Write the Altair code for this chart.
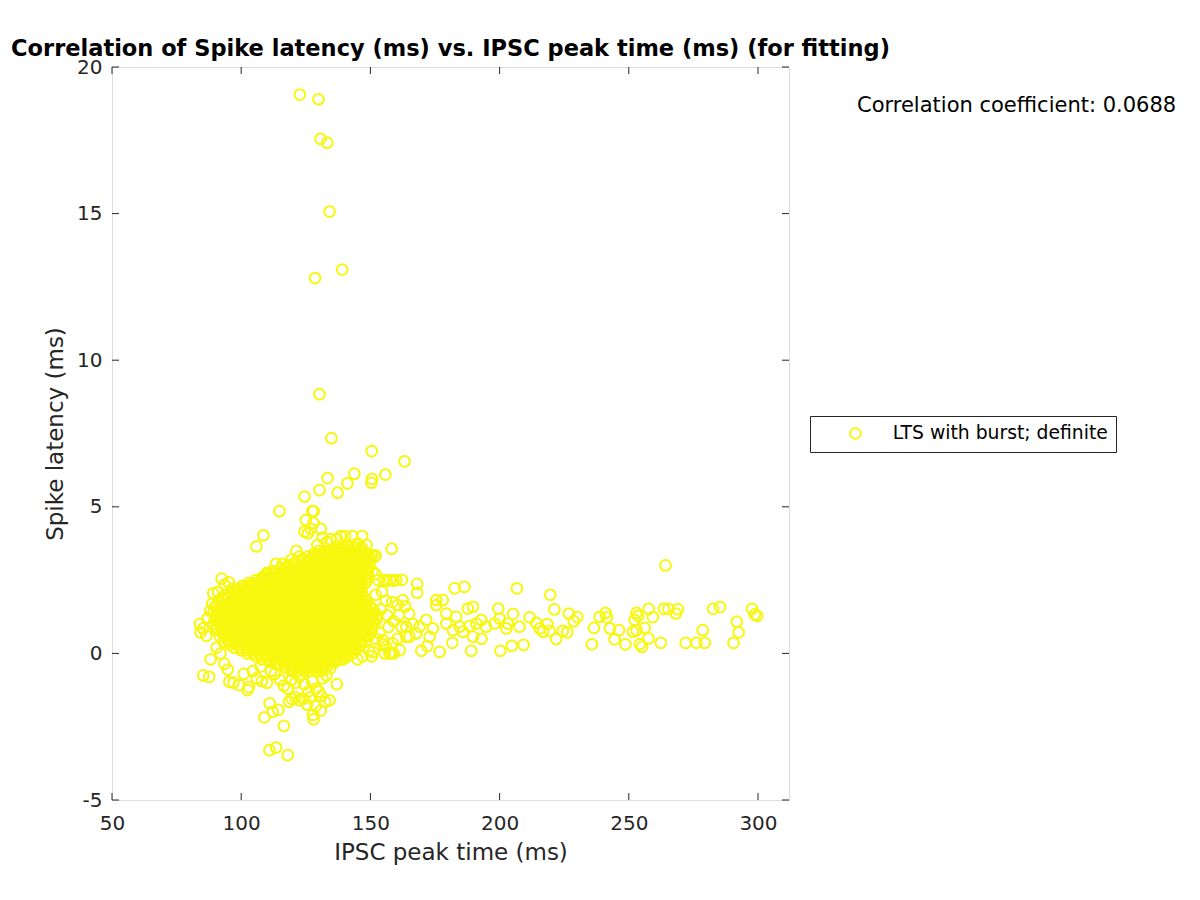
import altair as alt
import pandas as pd

SERIES = "LTS with burst; definite"
TITLE = "Correlation of Spike latency (ms) vs. IPSC peak time (ms) (for fitting)"
ANNOT = "Correlation coefficient: 0.0688"
X_TICKS = [50, 100, 150, 200, 250, 300]
Y_TICKS = [-5, 0, 5, 10, 15, 20]

# isolated high points
out_x = [122.7, 129.9, 130.7, 133.3, 134.2, 139.1, 128.6, 130.3, 134.9, 150.5, 163.2, 133.4,
         143.8, 155.8, 150.6, 150.4, 130.3, 141.1, 137.3, 124.5, 114.8, 128.0, 108.6, 105.9]
out_y = [19.06, 18.9, 17.55, 17.42, 15.07, 13.09, 12.8, 8.84, 7.34, 6.9, 6.55, 5.98,
         6.13, 6.1, 5.95, 5.82, 5.57, 5.8, 5.48, 5.35, 4.85, 4.85, 4.03, 3.65]

# long right tail
tail_x = [264.2, 206.7, 219.6, 186.4, 182.6, 158.2, 152.0, 168.1, 168.1, 162.2, 158.9, 156.3,
          199.5, 221.2, 226.8, 230.1, 228.7, 257.7, 263.6, 265.3, 269.0, 268.2, 282.6, 285.3,
          297.7, 298.8, 299.7, 291.8, 292.5, 290.5, 278.6, 279.4, 276.2, 272.0, 262.4, 257.6,
          255.1, 254.3, 259.3, 253.0, 253.6, 252.3, 256.2, 253.0, 251.6, 248.7, 246.2, 244.5,
          242.7, 241.0, 238.7, 241.5, 236.5, 235.7, 226.2, 224.5, 221.9, 219.4, 216.8, 215.5,
          218.5, 214.2, 211.6, 209.3, 204.7, 200.3, 198.1, 200.0, 205.2, 203.2, 207.7, 202.6,
          192.9, 194.8, 191.0, 188.4, 189.7, 187.7, 189.0, 193.0, 189.7, 181.7, 179.4, 178.0,
          179.4, 176.8, 175.5, 181.9, 183.2, 184.5, 185.8, 169.7, 172.0, 175.5, 171.6, 174.2,
          169.0, 172.9, 167.7, 165.1, 163.9, 158.1, 157.4, 163.9, 161.3, 162.5, 160.0, 154.8, 156.1]
tail_y = [3.0, 2.22, 2.0, 2.27, 2.22, 3.57, 3.34, 2.37, 2.07, 2.51, 2.48, 2.48,
          1.53, 1.5, 1.36, 1.24, 1.10, 1.52, 1.52, 1.52, 1.51, 1.36, 1.52, 1.58,
          1.52, 1.33, 1.28, 1.08, 0.72, 0.36, 0.79, 0.36, 0.36, 0.36, 0.36, 0.51,
          0.22, 0.32, 1.24, 1.38, 1.28, 1.14, 0.87, 0.79, 0.74, 0.31, 0.79, 0.48,
          0.85, 1.38, 1.25, 1.23, 0.87, 0.31, 0.72, 0.77, 0.49, 0.77, 0.74, 0.85,
          1.0, 1.04, 1.23, 0.29, 0.26, 0.09, 1.02, 1.19, 1.34, 1.02, 0.91, 0.85,
          1.14, 0.91, 1.02, 0.94, 1.59, 1.53, 0.09, 0.50, 0.57, 0.36, 1.36, 1.82,
          1.02, 0.05, 1.82, 0.79, 1.25, 0.91, 0.74, 0.09, 0.25, 1.65, 1.14, 0.85,
          0.91, 0.57, 0.68, 0.57, 0.91, 0.02, 0.0, 0.57, 0.11, 1.82, 2.5, 0.45, 0.23]

# rings around the edge of the dense cluster
edge_x = [84.0, 84.3, 85.2, 86.5, 87.0, 88.0, 88.8, 89.2, 91.0, 92.4, 93.6, 95.2, 96.5,
          85.3, 87.6, 88.2, 90.5, 92.0, 93.5, 94.8, 95.4, 99.2, 102.5, 97.0, 101.0, 103.0,
          104.5, 106.0, 107.5, 108.0, 110.0, 111.5, 113.0, 115.0, 116.5, 118.0, 119.5, 121.0,
          122.5, 124.5, 126.0, 127.5, 129.0, 130.0, 131.5, 133.0, 134.5, 136.0, 137.0, 139.5,
          141.0, 109.0, 112.2, 114.4, 116.5, 110.9, 113.5, 118.0, 111.0, 118.5, 119.5, 121.0,
          122.5, 124.0, 127.8, 128.0, 128.8, 130.8, 131.0, 132.5, 134.2, 125.5, 126.5,
          100.5, 102.5, 104.5, 106.2, 108.2, 110.0, 112.2, 113.4, 116.0, 118.0, 119.5, 121.4,
          122.5, 124.5, 125.8, 127.0, 128.0, 127.5, 125.0, 130.8, 131.5, 133.2, 135.0, 137.0,
          138.5, 140.2, 141.5, 143.0, 145.0, 146.8, 148.5, 150.5, 151.6, 149.0, 152.0, 153.0,
          155.2, 157.6, 154.5, 156.0, 158.5, 160.5, 152.0, 154.0, 156.5, 159.0, 161.0, 157.0,
          153.5, 155.0, 152.0, 149.5, 151.0, 147.0, 145.0, 144.0, 158.5, 160.5, 162.0, 163.5,
          165.0, 166.5, 150.5, 146.0, 155.5, 159.0, 129.5, 134.5, 145.5]
edge_y = [1.0, 0.72, 0.85, 0.6, 1.2, 1.45, 1.7, 2.05, 2.1, 2.55, 2.35, 2.42, 2.2,
          -0.75, -0.8, -0.2, 0.2, 0.0, -0.35, -0.55, -0.97, -1.08, -1.25, -1.0, -0.7, -1.15,
          -0.6, -0.85, -0.45, -0.95, -1.0, -0.6, -0.7, -0.9, -1.1, -1.2, -0.9, -1.0,
          -0.8, -1.05, -1.3, -0.95, -1.2, -1.3, -0.85, -0.75, -0.5, -0.3, -1.05, -0.2,
          0.0, -2.18, -1.99, -1.93, -2.47, -3.30, -3.21, -3.47, -1.7, -1.65, -1.55, -1.5,
          -1.6, -1.55, -2.1, -2.25, -1.8, -1.95, -1.45, -1.65, -1.6, -1.75, -1.5,
          2.3, 2.25, 2.35, 2.3, 2.55, 2.75, 2.8, 3.05, 3.05, 2.95, 3.2, 3.5,
          3.3, 4.15, 4.1, 4.25, 4.45, 4.85, 4.55, 4.25, 3.95, 3.8, 3.5, 3.9,
          4.0, 4.0, 3.7, 4.0, 3.75, 4.0, 3.7, 3.35, 3.3, 2.9, 2.7, 2.5,
          2.5, 2.5, 2.1, 1.8, 1.75, 1.65, 2.0, 1.5, 1.3, 1.1, 1.3, 0.9,
          0.7, 0.3, 0.5, 0.1, 0.05, -0.1, -0.2, 0.2, 0.35, 0.5, 0.9, 1.6,
          1.35, 1.0, -0.1, 0.6, 0.0, 0.0, 3.7, 3.9, 3.3]

# dense core, read row by row (row latency, then peak times along that row)
core_row_y = [3.6, 3.5, 3.4, 3.3, 3.2, 3.1, 3.0, 2.9, 2.8, 2.7, 2.6, 2.5, 2.4, 2.3, 2.2, 2.1,
              2.0, 1.9, 1.8, 1.7, 1.6, 1.5, 1.4, 1.3, 1.2, 1.1, 1.0, 0.9, 0.8, 0.7, 0.6, 0.5,
              0.4, 0.3, 0.2, 0.1, 0.0, -0.1, -0.2, -0.3, -0.4, -0.5, -0.6]
core_row_x = [
    [137.0, 139.4, 141.8, 144.2, 146.6],
    [130.0, 132.4, 134.8, 137.2, 139.6, 142.0, 144.4, 146.8],
    [128.2, 130.6, 133.0, 135.4, 137.8, 140.2, 142.6, 145.0, 147.4, 149.0],
    [125.8, 128.2, 130.6, 133.0, 135.4, 137.8, 140.2, 142.6, 145.0, 147.4, 149.6],
    [124.0, 126.4, 128.8, 131.2, 133.6, 136.0, 138.4, 140.8, 143.2, 145.6, 148.0, 150.2],
    [120.8, 123.2, 125.6, 128.0, 130.4, 132.8, 135.2, 137.6, 140.0, 142.4, 144.8, 147.2, 149.6],
    [118.2, 120.6, 123.0, 125.4, 127.8, 130.2, 132.6, 135.0, 137.4, 139.8, 142.2, 144.6, 147.0, 149.4],
    [115.6, 118.0, 120.4, 122.8, 125.2, 127.6, 130.0, 132.4, 134.8, 137.2, 139.6, 142.0, 144.4, 146.8,
     149.2],
    [113.0, 115.4, 117.8, 120.2, 122.6, 125.0, 127.4, 129.8, 132.2, 134.6, 137.0, 139.4, 141.8, 144.2,
     146.6, 149.0, 150.8],
    [110.4, 112.8, 115.2, 117.6, 120.0, 122.4, 124.8, 127.2, 129.6, 132.0, 134.4, 136.8, 139.2, 141.6,
     144.0, 146.4, 148.8],
    [108.2, 110.6, 113.0, 115.4, 117.8, 120.2, 122.6, 125.0, 127.4, 129.8, 132.2, 134.6, 137.0, 139.4,
     141.8, 144.2, 146.6, 149.0],
    [105.6, 108.0, 110.4, 112.8, 115.2, 117.6, 120.0, 122.4, 124.8, 127.2, 129.6, 132.0, 134.4, 136.8,
     139.2, 141.6, 144.0, 146.4, 148.6],
    [103.0, 105.4, 107.8, 110.2, 112.6, 115.0, 117.4, 119.8, 122.2, 124.6, 127.0, 129.4, 131.8, 134.2,
     136.6, 139.0, 141.4, 143.8, 146.2, 148.2],
    [100.8, 103.2, 105.6, 108.0, 110.4, 112.8, 115.2, 117.6, 120.0, 122.4, 124.8, 127.2, 129.6, 132.0,
     134.4, 136.8, 139.2, 141.6, 144.0, 146.4],
    [98.2, 100.6, 103.0, 105.4, 107.8, 110.2, 112.6, 115.0, 117.4, 119.8, 122.2, 124.6, 127.0, 129.4,
     131.8, 134.2, 136.6, 139.0, 141.4, 143.8, 146.2],
    [96.2, 98.6, 101.0, 103.4, 105.8, 108.2, 110.6, 113.0, 115.4, 117.8, 120.2, 122.6, 125.0, 127.4,
     129.8, 132.2, 134.6, 137.0, 139.4, 141.8, 144.2, 146.6],
    [94.0, 96.4, 98.8, 101.2, 103.6, 106.0, 108.4, 110.8, 113.2, 115.6, 118.0, 120.4, 122.8, 125.2,
     127.6, 130.0, 132.4, 134.8, 137.2, 139.6, 142.0, 144.4, 146.8],
    [92.6, 95.0, 97.4, 99.8, 102.2, 104.6, 107.0, 109.4, 111.8, 114.2, 116.6, 119.0, 121.4, 123.8,
     126.2, 128.6, 131.0, 133.4, 135.8, 138.2, 140.6, 143.0, 145.4, 147.6],
    [91.2, 93.6, 96.0, 98.4, 100.8, 103.2, 105.6, 108.0, 110.4, 112.8, 115.2, 117.6, 120.0, 122.4,
     124.8, 127.2, 129.6, 132.0, 134.4, 136.8, 139.2, 141.6, 144.0, 146.4, 148.4],
    [92.4, 94.8, 97.2, 99.6, 102.0, 104.4, 106.8, 109.2, 111.6, 114.0, 116.4, 118.8, 121.2, 123.6,
     126.0, 128.4, 130.8, 133.2, 135.6, 138.0, 140.4, 142.8, 145.2, 147.6],
    [90.0, 92.4, 94.8, 97.2, 99.6, 102.0, 104.4, 106.8, 109.2, 111.6, 114.0, 116.4, 118.8, 121.2,
     123.6, 126.0, 128.4, 130.8, 133.2, 135.6, 138.0, 140.4, 142.8, 145.2, 147.6, 150.0],
    [91.2, 93.6, 96.0, 98.4, 100.8, 103.2, 105.6, 108.0, 110.4, 112.8, 115.2, 117.6, 120.0, 122.4,
     124.8, 127.2, 129.6, 132.0, 134.4, 136.8, 139.2, 141.6, 144.0, 146.4, 148.8, 151.0],
    [89.2, 91.6, 94.0, 96.4, 98.8, 101.2, 103.6, 106.0, 108.4, 110.8, 113.2, 115.6, 118.0, 120.4,
     122.8, 125.2, 127.6, 130.0, 132.4, 134.8, 137.2, 139.6, 142.0, 144.4, 146.8, 149.2, 151.6],
    [90.4, 92.8, 95.2, 97.6, 100.0, 102.4, 104.8, 107.2, 109.6, 112.0, 114.4, 116.8, 119.2, 121.6,
     124.0, 126.4, 128.8, 131.2, 133.6, 136.0, 138.4, 140.8, 143.2, 145.6, 148.0, 150.4, 152.4],
    [90.0, 92.4, 94.8, 97.2, 99.6, 102.0, 104.4, 106.8, 109.2, 111.6, 114.0, 116.4, 118.8, 121.2,
     123.6, 126.0, 128.4, 130.8, 133.2, 135.6, 138.0, 140.4, 142.8, 145.2, 147.6, 150.0, 152.6],
    [91.2, 93.6, 96.0, 98.4, 100.8, 103.2, 105.6, 108.0, 110.4, 112.8, 115.2, 117.6, 120.0, 122.4,
     124.8, 127.2, 129.6, 132.0, 134.4, 136.8, 139.2, 141.6, 144.0, 146.4, 148.8, 151.2],
    [89.2, 91.6, 94.0, 96.4, 98.8, 101.2, 103.6, 106.0, 108.4, 110.8, 113.2, 115.6, 118.0, 120.4,
     122.8, 125.2, 127.6, 130.0, 132.4, 134.8, 137.2, 139.6, 142.0, 144.4, 146.8, 149.2, 151.6],
    [90.4, 92.8, 95.2, 97.6, 100.0, 102.4, 104.8, 107.2, 109.6, 112.0, 114.4, 116.8, 119.2, 121.6,
     124.0, 126.4, 128.8, 131.2, 133.6, 136.0, 138.4, 140.8, 143.2, 145.6, 148.0, 150.6],
    [90.4, 92.8, 95.2, 97.6, 100.0, 102.4, 104.8, 107.2, 109.6, 112.0, 114.4, 116.8, 119.2, 121.6,
     124.0, 126.4, 128.8, 131.2, 133.6, 136.0, 138.4, 140.8, 143.2, 145.6, 148.0, 150.6],
    [92.8, 95.2, 97.6, 100.0, 102.4, 104.8, 107.2, 109.6, 112.0, 114.4, 116.8, 119.2, 121.6, 124.0,
     126.4, 128.8, 131.2, 133.6, 136.0, 138.4, 140.8, 143.2, 145.6, 148.0, 150.0],
    [91.6, 94.0, 96.4, 98.8, 101.2, 103.6, 106.0, 108.4, 110.8, 113.2, 115.6, 118.0, 120.4, 122.8,
     125.2, 127.6, 130.0, 132.4, 134.8, 137.2, 139.6, 142.0, 144.4, 146.8, 149.4],
    [94.4, 96.8, 99.2, 101.6, 104.0, 106.4, 108.8, 111.2, 113.6, 116.0, 118.4, 120.8, 123.2, 125.6,
     128.0, 130.4, 132.8, 135.2, 137.6, 140.0, 142.4, 144.8, 147.2],
    [93.2, 95.6, 98.0, 100.4, 102.8, 105.2, 107.6, 110.0, 112.4, 114.8, 117.2, 119.6, 122.0, 124.4,
     126.8, 129.2, 131.6, 134.0, 136.4, 138.8, 141.2, 143.6, 146.0, 148.0],
    [95.6, 98.0, 100.4, 102.8, 105.2, 107.6, 110.0, 112.4, 114.8, 117.2, 119.6, 122.0, 124.4, 126.8,
     129.2, 131.6, 134.0, 136.4, 138.8, 141.2, 143.6, 146.0],
    [97.2, 99.6, 102.0, 104.4, 106.8, 109.2, 111.6, 114.0, 116.4, 118.8, 121.2, 123.6, 126.0, 128.4,
     130.8, 133.2, 135.6, 138.0, 140.4, 142.8, 145.4],
    [100.0, 102.4, 104.8, 107.2, 109.6, 112.0, 114.4, 116.8, 119.2, 121.6, 124.0, 126.4, 128.8, 131.2,
     133.6, 136.0, 138.4, 140.8, 143.2],
    [102.4, 104.8, 107.2, 109.6, 112.0, 114.4, 116.8, 119.2, 121.6, 124.0, 126.4, 128.8, 131.2, 133.6,
     136.0, 138.4, 140.8, 143.0],
    [105.6, 108.0, 110.4, 112.8, 115.2, 117.6, 120.0, 122.4, 124.8, 127.2, 129.6, 132.0, 134.4, 136.8,
     139.2, 141.2],
    [108.0, 110.4, 112.8, 115.2, 117.6, 120.0, 122.4, 124.8, 127.2, 129.6, 132.0, 134.4, 136.8, 138.6],
    [111.6, 114.0, 116.4, 118.8, 121.2, 123.6, 126.0, 128.4, 130.8, 133.2, 135.6],
    [114.4, 116.8, 119.2, 121.6, 124.0, 126.4, 128.8, 131.2, 133.6],
    [117.2, 119.6, 122.0, 124.4, 126.8, 129.2, 131.6],
    [119.6, 122.0, 124.4, 126.8, 129.2, 131.2],
]

xs = out_x + tail_x + edge_x
ys = out_y + tail_y + edge_y
for ry, rx in zip(core_row_y, core_row_x):
    xs += rx
    ys += [ry] * len(rx)
points = pd.DataFrame({"x": xs, "y": ys, "group": SERIES})

FONT = "DejaVu Sans"
AXC = "#262626"
YELLOW = "#f7f70f"
W, H = 677, 733
PT_SIZE = 115
PT_SW = 2.0

xscale = alt.Scale(domain=[50, 312], nice=False, zero=False)
yscale = alt.Scale(domain=[-5, 20], nice=False, zero=False)
xaxis = alt.Axis(values=X_TICKS, ticks=False, tickSize=0, domain=False, grid=False,
                 labelFont=FONT, labelFontSize=20, labelColor=AXC, labelPadding=29,
                 labelBaseline="alphabetic", labelFlush=False, labelOverlap=False,
                 titleFont=FONT, titleFontSize=23, titleFontWeight="normal", titleColor=AXC,
                 titleBaseline="alphabetic", titleY=59, titleX=W / 2)
yaxis = alt.Axis(values=Y_TICKS, ticks=False, tickSize=0, domain=False, grid=False,
                 labelFont=FONT, labelFontSize=20, labelColor=AXC, labelPadding=10,
                 labelAlign="right", labelBaseline="middle", labelFlush=False, labelOverlap=False,
                 labelExpr="'' + datum.value",
                 titleFont=FONT, titleFontSize=23, titleFontWeight="normal", titleColor=AXC,
                 titleBaseline="alphabetic", titleX=-50, titleY=H / 2, titleAngle=270,
                 titleAlign="center")
XT = "IPSC peak time (ms)"
YT = "Spike latency (ms)"

scatter = alt.Chart(points).mark_point(filled=False, size=PT_SIZE, strokeWidth=PT_SW, opacity=1).encode(
    x=alt.X("x:Q", scale=xscale, axis=xaxis, title=XT),
    y=alt.Y("y:Q", scale=yscale, axis=yaxis, title=YT),
    color=alt.Color("group:N", scale=alt.Scale(domain=[SERIES], range=[YELLOW]),
                    legend=alt.Legend(orient="none", legendX=698, legendY=349, title=None,
                                      strokeColor=AXC, fillColor="white", padding=8,
                                      symbolType="circle", symbolSize=PT_SIZE,
                                      symbolStrokeWidth=PT_SW,
                                      symbolOffset=28, labelOffset=28, labelFont=FONT,
                                      labelFontSize=18.75, labelColor="black", labelLimit=400,
                                      cornerRadius=0)),
)

xt = pd.DataFrame({"x": X_TICKS})
yt = pd.DataFrame({"y": Y_TICKS})
xenc = alt.X("x:Q", scale=xscale, axis=xaxis, title=XT)
yenc = alt.Y("y:Q", scale=yscale, axis=yaxis, title=YT)
tick_b = alt.Chart(xt).mark_rule(color=AXC, strokeWidth=1).encode(x=xenc, y=alt.value(H), y2=alt.value(H - 7))
tick_t = alt.Chart(xt).mark_rule(color=AXC, strokeWidth=1).encode(x=xenc, y=alt.value(0), y2=alt.value(7))
tick_l = alt.Chart(yt).mark_rule(color=AXC, strokeWidth=1).encode(y=yenc, x=alt.value(0), x2=alt.value(7))
tick_r = alt.Chart(yt).mark_rule(color=AXC, strokeWidth=1).encode(y=yenc, x=alt.value(W), x2=alt.value(W - 7))

annot = alt.Chart(pd.DataFrame({"t": [ANNOT]})).mark_text(
    font=FONT, fontSize=21, color="black", align="left", baseline="alphabetic"
).encode(text="t:N", x=alt.value(745), y=alt.value(44.7))

chart = alt.layer(scatter, tick_b, tick_t, tick_l, tick_r, annot).properties(
    width=W, height=H,
    title=alt.Title(TITLE, font=FONT, fontSize=22.5, fontWeight="bold", color="black",
                    anchor="middle", frame="group", baseline="alphabetic", offset=12, dy=33),
    autosize=alt.AutoSizeParams(type="none"),
    padding={"left": 104, "top": 59, "right": 395, "bottom": 80},
).configure_view(stroke=AXC, strokeWidth=1).configure(background="white")

chart.save("out.html", embed_options={"renderer": "svg", "actions": False})
